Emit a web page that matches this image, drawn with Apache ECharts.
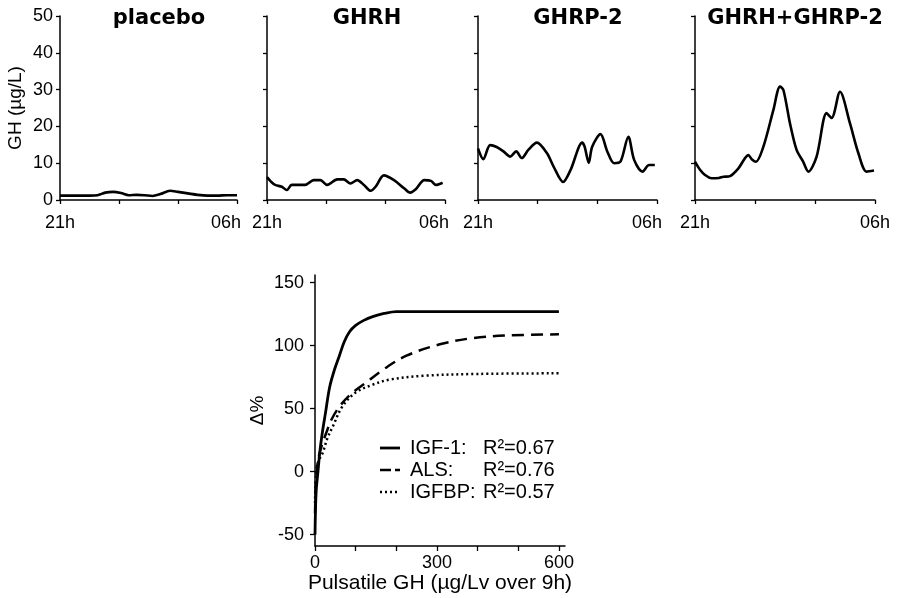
<!DOCTYPE html>
<html>
<head>
<meta charset="utf-8">
<script src="https://cdn.jsdelivr.net/npm/echarts@6/dist/echarts.min.js"></script>
<style>
  html, body { margin: 0; padding: 0; background: #fff; }
  #chart { width: 900px; height: 598px; }
</style>
</head>
<body>
<div id="chart"></div>
<script>
// Overnight GH profiles, [hours after 21h, GH µg/L]
const panelTitles = ['placebo', 'GHRH', 'GHRP-2', 'GHRH+GHRP-2'];
const timeLabels = ['21h', '06h'];
const ghTicks = [0, 10, 20, 30, 40, 50];

const placeboGH = [[0,1.2],[0.5,1.2],[1,1.2],[1.5,1.2],[1.9,1.3],[2.3,2.0],[2.7,2.2],[3.1,1.9],[3.5,1.3],[3.9,1.4],[4.3,1.3],[4.7,1.1],[5.1,1.6],[5.6,2.5],[6.0,2.2],[6.5,1.8],[7.0,1.4],[7.5,1.2],[8.0,1.2],[8.5,1.3],[9.0,1.3]];
const ghrhGH = [[0,6.2],[0.2,5.0],[0.41,4.1],[0.75,3.6],[1.0,2.7],[1.25,4.1],[1.6,4.1],[1.93,4.1],[2.36,5.4],[2.7,5.4],[3.04,4.1],[3.55,5.6],[3.88,5.6],[4.22,4.5],[4.56,5.4],[4.9,4.1],[5.24,2.5],[5.49,3.6],[5.91,6.7],[6.42,5.4],[6.93,3.2],[7.24,2.0],[7.52,2.9],[7.95,5.4],[8.29,5.2],[8.54,4.1],[8.88,4.7]];
const ghrp2GH = [[0,14.0],[0.27,11.1],[0.61,14.9],[0.94,14.4],[1.28,13.2],[1.62,11.8],[1.92,13.2],[2.2,11.4],[2.54,13.7],[2.96,15.6],[3.47,12.7],[3.8,9.1],[4.28,4.9],[4.65,8.1],[5.24,15.6],[5.36,14.5],[5.57,10.1],[5.74,14.5],[6.16,17.9],[6.5,13.2],[6.84,10.0],[7.17,10.5],[7.56,17.2],[7.85,10.9],[8.27,7.7],[8.6,9.5],[8.89,9.5]];
const comboGH = [[0,10.4],[0.25,8.2],[0.5,6.8],[0.83,5.9],[1.2,6.0],[1.42,6.3],[1.75,6.5],[2.17,8.6],[2.67,12.2],[2.85,11.0],[3.05,10.4],[3.42,14.5],[3.92,24.5],[4.25,30.8],[4.42,29.9],[4.75,20.8],[5.08,13.6],[5.4,10.5],[5.67,7.7],[6.08,11.8],[6.58,23.6],[6.83,22.3],[7.25,29.4],[7.75,20.8],[8.17,12.7],[8.58,7.7],[8.95,8.0]];

// Change (%) versus pulsatile GH, [µg/Lv over 9h, Δ%]
const igf1Fit = [[0,-50],[1,-33],[3,-15],[7,-1],[12,16],[19,33],[26,47],[36,67],[48,81],[60,92],[72,103],[85,111],[100,116],[120,120],[142,123],[170,125.5],[200,127],[250,127],[300,127],[400,127],[500,127],[600,127]];
const alsFit = [[0,-33],[2,-12],[5,3],[10,13],[18,22],[28,31],[40,41],[61,52],[90,62],[127,71],[168,81],[225,92],[307,101],[389,106],[471,108],[600,109]];
const igfbpFit = [[0,-25],[3,0],[8,8],[19,15],[30,26],[44,36],[68,52],[101,63],[142,69],[183,73],[265,76],[400,77.5],[600,78]];
const fitNames = ['IGF-1:', 'ALS:', 'IGFBP:'];
const fitR2 = ['R²=0.67', 'R²=0.76', 'R²=0.57'];
const pulseTicks = [0, 100, 200, 300, 400, 500, 600];
const pulseLabels = [0, 300, 600];
const deltaTicks = [-50, 0, 50, 100, 150];

const profiles = [placeboGH, ghrhGH, ghrp2GH, comboGH];
const FONT = '"Liberation Sans", Arial, sans-serif';
const INK = '#000';

const panelGrids = [
  { left: 60,  top: 16, width: 177, height: 184 },
  { left: 267, top: 16, width: 178, height: 184 },
  { left: 478, top: 16, width: 179, height: 184 },
  { left: 695, top: 16, width: 180, height: 184 }
];
const titleCenters = [154, 362, 573, 790];
// the closing "06h" sits a little inside the axis end, except on the last panel
const endLabelShift = [22, 22, 20, 0];

const axisLine = { show: true, onZero: false, lineStyle: { color: INK, width: 1.5 } };
const tickStyle = { color: INK, width: 1.3 };

const grids = panelGrids.concat([{ left: 315, top: 275, width: 250, height: 271 }]);
const xAxes = [];
const yAxes = [];
const series = [];

profiles.forEach((data, i) => {
  xAxes.push({
    gridIndex: i, type: 'value', min: 0, max: 9, interval: 3,
    axisLine: axisLine,
    axisTick: { show: true, length: 4, lineStyle: tickStyle },
    axisLabel: {
      customValues: [0, 9],
      formatter: v => (v === 0 ? timeLabels[0] : '{e|' + timeLabels[1] + '}'),
      fontFamily: FONT, fontSize: 18, color: INK, margin: 14,
      rich: { e: { fontFamily: FONT, fontSize: 18, color: INK, padding: [0, endLabelShift[i], 0, 0] } }
    },
    splitLine: { show: false }
  });
  yAxes.push({
    gridIndex: i, type: 'value', min: 0, max: 50, interval: 10,
    axisLine: axisLine,
    axisTick: { show: true, length: 4, lineStyle: tickStyle },
    axisLabel: { show: i === 0, fontFamily: FONT, fontSize: 18, color: INK, margin: 7 },
    splitLine: { show: false },
    name: i === 0 ? 'GH (µg/L)' : '',
    nameLocation: 'middle', nameGap: 35,
    nameTextStyle: { fontFamily: FONT, fontSize: 19, color: INK }
  });
  series.push({
    type: 'line', xAxisIndex: i, yAxisIndex: i, data: data,
    smooth: 0.3, showSymbol: false, silent: true,
    lineStyle: { color: INK, width: 2.6 }
  });
});

xAxes.push({
  gridIndex: 4, type: 'value', min: 0, max: 615,
  axisLine: axisLine,
  axisTick: { show: true, length: 5, customValues: pulseTicks, lineStyle: tickStyle },
  axisLabel: { customValues: pulseLabels, fontFamily: FONT, fontSize: 18, color: INK, margin: 8 },
  splitLine: { show: false },
  name: 'Pulsatile GH (µg/Lv over 9h)', nameLocation: 'middle', nameGap: 27,
  nameTextStyle: { fontFamily: FONT, fontSize: 21, color: INK }
});
yAxes.push({
  gridIndex: 4, type: 'value', min: -59, max: 156,
  axisLine: axisLine,
  axisTick: { show: true, length: 5, customValues: deltaTicks, lineStyle: tickStyle },
  axisLabel: { customValues: deltaTicks, fontFamily: FONT, fontSize: 18, color: INK, margin: 11 },
  splitLine: { show: false },
  name: 'Δ%', nameLocation: 'middle', nameGap: 48,
  nameTextStyle: { fontFamily: FONT, fontSize: 19, color: INK }
});

const fitStyles = [
  { width: 2.8, type: 'solid' },
  { width: 2.5, type: [12, 7] },
  { width: 2.5, type: [2, 3] }
];
[igf1Fit, alsFit, igfbpFit].forEach((data, k) => {
  series.push({
    type: 'line', name: fitNames[k], xAxisIndex: 4, yAxisIndex: 4, data: data,
    smooth: 0.35, showSymbol: false, silent: true,
    lineStyle: { color: INK, width: fitStyles[k].width, type: fitStyles[k].type }
  });
});

// Key for the three fitted curves
const keyRows = [448, 470, 492];
const keyDash = [null, [11, 4], [2, 3]];
const graphics = [];
keyRows.forEach((y, k) => {
  graphics.push({
    type: 'line', silent: true,
    shape: { x1: 380, y1: y, x2: 400, y2: y },
    style: { stroke: INK, lineWidth: fitStyles[k].width, lineDash: keyDash[k] }
  });
  graphics.push({
    type: 'text', x: 410, y: y, silent: true,
    style: { text: fitNames[k], font: '20px ' + FONT, fill: INK, verticalAlign: 'middle' }
  });
  graphics.push({
    type: 'text', x: 483, y: y, silent: true,
    style: { text: fitR2[k], font: '20px ' + FONT, fill: INK, verticalAlign: 'middle' }
  });
});

const chart = echarts.init(document.getElementById('chart'), null, { renderer: 'canvas' });
chart.setOption({
  backgroundColor: '#fff',
  animation: false,
  title: panelTitles.map((t, i) => ({
    text: t, left: titleCenters[i], top: 3, textAlign: 'center',
    textStyle: { fontFamily: '"DejaVu Sans", sans-serif', fontWeight: 'bold', fontSize: 21, color: INK }
  })),
  grid: grids,
  xAxis: xAxes,
  yAxis: yAxes,
  series: series,
  graphic: graphics
});
</script>
</body>
</html>
